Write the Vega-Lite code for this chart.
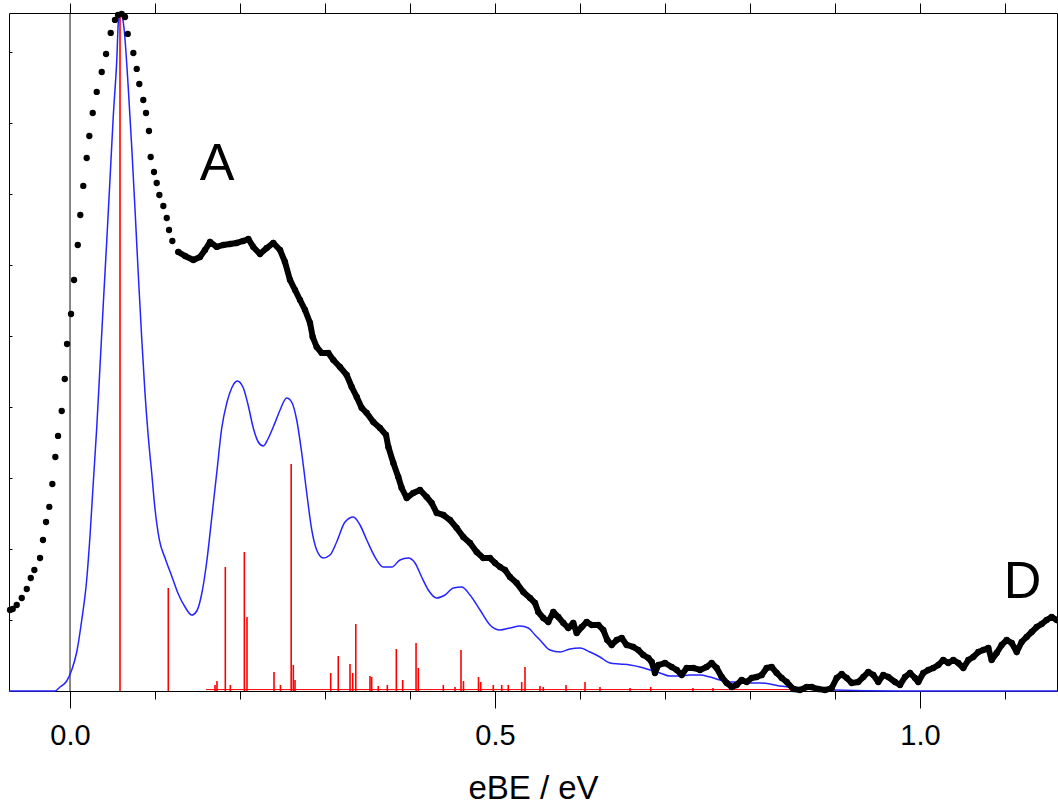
{
  "$schema": "https://vega.github.io/schema/vega-lite/v6.json",
  "width": 1048,
  "height": 678,
  "autosize": {"type": "none"},
  "padding": {"left": 9, "top": 13, "right": 1, "bottom": 115},
  "background": "white",
  "config": {
    "view": {"stroke": "black", "strokeWidth": 1},
    "font": "Liberation Sans",
    "axis": {"domainColor": "black", "tickColor": "black", "grid": false, "labelColor": "black", "titleColor": "black"}
  },
  "datasets": {
    "exp": [
      {"e": -0.0706, "v": 1.141}, {"e": -0.0674, "v": 1.155}, {"e": -0.0627, "v": 1.211}, {"e": -0.0568, "v": 1.31},
      {"e": -0.0509, "v": 1.437}, {"e": -0.0462, "v": 1.592}, {"e": -0.042, "v": 1.704}, {"e": -0.0353, "v": 1.873},
      {"e": -0.0318, "v": 2.127}, {"e": -0.0282, "v": 2.38}, {"e": -0.0244, "v": 2.592}, {"e": -0.0208, "v": 2.915},
      {"e": -0.0173, "v": 3.296}, {"e": -0.0141, "v": 3.592}, {"e": -0.0098, "v": 3.944}, {"e": -0.0062, "v": 4.394},
      {"e": -0.0035, "v": 4.887}, {"e": 0.0012, "v": 5.31}, {"e": 0.0047, "v": 5.789}, {"e": 0.0091, "v": 6.282},
      {"e": 0.0121, "v": 6.704}, {"e": 0.0156, "v": 7.113}, {"e": 0.0196, "v": 7.507}, {"e": 0.0227, "v": 7.817},
      {"e": 0.0267, "v": 8.141}, {"e": 0.0314, "v": 8.437}, {"e": 0.0373, "v": 8.718}, {"e": 0.0424, "v": 8.972},
      {"e": 0.0479, "v": 9.268}, {"e": 0.0529, "v": 9.451}, {"e": 0.0565, "v": 9.521}, {"e": 0.0608, "v": 9.535},
      {"e": 0.0647, "v": 9.493}, {"e": 0.0679, "v": 9.254}, {"e": 0.0745, "v": 8.986}, {"e": 0.0785, "v": 8.761},
      {"e": 0.0815, "v": 8.549}, {"e": 0.0862, "v": 8.324}, {"e": 0.0894, "v": 8.141}, {"e": 0.0929, "v": 7.887},
      {"e": 0.0949, "v": 7.521}, {"e": 0.0988, "v": 7.31}, {"e": 0.102, "v": 7.155}, {"e": 0.1051, "v": 6.986},
      {"e": 0.1098, "v": 6.831}, {"e": 0.1138, "v": 6.662}, {"e": 0.1165, "v": 6.493}, {"e": 0.1204, "v": 6.338},
      {"e": 0.1274, "v": 6.183}, {"e": 0.1353, "v": 6.127}, {"e": 0.1451, "v": 6.07}, {"e": 0.1529, "v": 6.113},
      {"e": 0.1588, "v": 6.211}, {"e": 0.1647, "v": 6.324}, {"e": 0.1726, "v": 6.254}, {"e": 0.1804, "v": 6.282},
      {"e": 0.1882, "v": 6.296}, {"e": 0.1961, "v": 6.31}, {"e": 0.2039, "v": 6.338}, {"e": 0.2098, "v": 6.366},
      {"e": 0.2156, "v": 6.254}, {"e": 0.2235, "v": 6.155}, {"e": 0.2314, "v": 6.239}, {"e": 0.2392, "v": 6.31},
      {"e": 0.2471, "v": 6.211}, {"e": 0.2529, "v": 6.042}, {"e": 0.2588, "v": 5.789}, {"e": 0.2647, "v": 5.648},
      {"e": 0.2706, "v": 5.507}, {"e": 0.2765, "v": 5.366}, {"e": 0.2824, "v": 5.183}, {"e": 0.2855, "v": 4.986},
      {"e": 0.2902, "v": 4.845}, {"e": 0.2961, "v": 4.761}, {"e": 0.3039, "v": 4.761}, {"e": 0.3098, "v": 4.662},
      {"e": 0.3176, "v": 4.563}, {"e": 0.3255, "v": 4.451}, {"e": 0.3314, "v": 4.282}, {"e": 0.3373, "v": 4.141},
      {"e": 0.3432, "v": 3.986}, {"e": 0.3491, "v": 3.915}, {"e": 0.3568, "v": 3.789}, {"e": 0.3647, "v": 3.704},
      {"e": 0.3718, "v": 3.606}, {"e": 0.3745, "v": 3.437}, {"e": 0.3804, "v": 3.211}, {"e": 0.3862, "v": 3.014},
      {"e": 0.3902, "v": 2.859}, {"e": 0.3961, "v": 2.718}, {"e": 0.4039, "v": 2.789}, {"e": 0.4118, "v": 2.831},
      {"e": 0.4196, "v": 2.732}, {"e": 0.4255, "v": 2.648}, {"e": 0.4314, "v": 2.507}, {"e": 0.4392, "v": 2.479},
      {"e": 0.4471, "v": 2.408}, {"e": 0.4549, "v": 2.296}, {"e": 0.4627, "v": 2.169}, {"e": 0.4706, "v": 2.085},
      {"e": 0.4784, "v": 1.958}, {"e": 0.4862, "v": 1.873}, {"e": 0.4941, "v": 1.873}, {"e": 0.5, "v": 1.803},
      {"e": 0.5059, "v": 1.746}, {"e": 0.5118, "v": 1.704}, {"e": 0.5176, "v": 1.606}, {"e": 0.5255, "v": 1.521},
      {"e": 0.5333, "v": 1.394}, {"e": 0.5412, "v": 1.31}, {"e": 0.5471, "v": 1.239}, {"e": 0.5509, "v": 1.113},
      {"e": 0.5568, "v": 1.028}, {"e": 0.5627, "v": 0.972}, {"e": 0.5686, "v": 1.113}, {"e": 0.5745, "v": 1.042},
      {"e": 0.5804, "v": 0.958}, {"e": 0.5862, "v": 0.887}, {"e": 0.5921, "v": 0.958}, {"e": 0.5961, "v": 0.817},
      {"e": 0.602, "v": 0.901}, {"e": 0.6079, "v": 0.972}, {"e": 0.6137, "v": 0.93}, {"e": 0.6215, "v": 0.93},
      {"e": 0.6274, "v": 0.859}, {"e": 0.6321, "v": 0.718}, {"e": 0.6373, "v": 0.648}, {"e": 0.6432, "v": 0.718},
      {"e": 0.6491, "v": 0.746}, {"e": 0.6549, "v": 0.648}, {"e": 0.6627, "v": 0.62}, {"e": 0.6686, "v": 0.577},
      {"e": 0.6745, "v": 0.507}, {"e": 0.6804, "v": 0.465}, {"e": 0.6844, "v": 0.408}, {"e": 0.6882, "v": 0.254},
      {"e": 0.6921, "v": 0.366}, {"e": 0.7, "v": 0.394}, {"e": 0.7079, "v": 0.338}, {"e": 0.7138, "v": 0.296},
      {"e": 0.7196, "v": 0.225}, {"e": 0.7255, "v": 0.324}, {"e": 0.7333, "v": 0.324}, {"e": 0.7412, "v": 0.296},
      {"e": 0.749, "v": 0.338}, {"e": 0.7549, "v": 0.394}, {"e": 0.7608, "v": 0.324}, {"e": 0.7667, "v": 0.197},
      {"e": 0.7726, "v": 0.113}, {"e": 0.7785, "v": 0.056}, {"e": 0.7843, "v": 0.085}, {"e": 0.7902, "v": 0.155},
      {"e": 0.7961, "v": 0.127}, {"e": 0.802, "v": 0.183}, {"e": 0.8079, "v": 0.197}, {"e": 0.8138, "v": 0.225},
      {"e": 0.8196, "v": 0.324}, {"e": 0.8255, "v": 0.338}, {"e": 0.8314, "v": 0.254}, {"e": 0.8373, "v": 0.183},
      {"e": 0.8432, "v": 0.127}, {"e": 0.851, "v": 0.028}, {"e": 0.8588, "v": 0.014}, {"e": 0.8667, "v": 0.056},
      {"e": 0.8726, "v": 0.056}, {"e": 0.8804, "v": 0.028}, {"e": 0.8882, "v": 0.014}, {"e": 0.8961, "v": 0.042},
      {"e": 0.902, "v": 0.183}, {"e": 0.9079, "v": 0.239}, {"e": 0.9138, "v": 0.183}, {"e": 0.9196, "v": 0.113},
      {"e": 0.9274, "v": 0.127}, {"e": 0.9333, "v": 0.197}, {"e": 0.9392, "v": 0.268}, {"e": 0.9451, "v": 0.225},
      {"e": 0.9509, "v": 0.127}, {"e": 0.9568, "v": 0.225}, {"e": 0.9627, "v": 0.197}, {"e": 0.9706, "v": 0.127},
      {"e": 0.9765, "v": 0.085}, {"e": 0.9824, "v": 0.197}, {"e": 0.9882, "v": 0.254}, {"e": 0.9941, "v": 0.183},
      {"e": 0.998, "v": 0.127}, {"e": 1.0039, "v": 0.254}, {"e": 1.0098, "v": 0.296}, {"e": 1.0157, "v": 0.324},
      {"e": 1.0216, "v": 0.366}, {"e": 1.0274, "v": 0.437}, {"e": 1.0333, "v": 0.394}, {"e": 1.0392, "v": 0.437},
      {"e": 1.0451, "v": 0.394}, {"e": 1.051, "v": 0.324}, {"e": 1.0569, "v": 0.437}, {"e": 1.0627, "v": 0.479},
      {"e": 1.0686, "v": 0.549}, {"e": 1.0745, "v": 0.577}, {"e": 1.0804, "v": 0.606}, {"e": 1.0843, "v": 0.437},
      {"e": 1.0902, "v": 0.535}, {"e": 1.0961, "v": 0.648}, {"e": 1.102, "v": 0.718}, {"e": 1.1079, "v": 0.676},
      {"e": 1.1138, "v": 0.549}, {"e": 1.1196, "v": 0.69}, {"e": 1.1255, "v": 0.761}, {"e": 1.1314, "v": 0.831},
      {"e": 1.1373, "v": 0.901}, {"e": 1.1432, "v": 0.944}, {"e": 1.149, "v": 1.0}, {"e": 1.1549, "v": 1.042},
      {"e": 1.1608, "v": 1.0}
    ],
    "sim": [
      {"e": -0.0718, "v": 0}, {"e": -0.0176, "v": 0}, {"e": -0.0118, "v": 0.056}, {"e": -0.0039, "v": 0.141},
      {"e": 0.002, "v": 0.296}, {"e": 0.0079, "v": 0.549}, {"e": 0.0138, "v": 1.0}, {"e": 0.0196, "v": 1.563},
      {"e": 0.0235, "v": 2.183}, {"e": 0.0274, "v": 2.944}, {"e": 0.0314, "v": 3.704}, {"e": 0.0353, "v": 4.577},
      {"e": 0.0392, "v": 5.465}, {"e": 0.0432, "v": 6.338}, {"e": 0.0471, "v": 7.225}, {"e": 0.0509, "v": 8.099},
      {"e": 0.0549, "v": 8.859}, {"e": 0.0571, "v": 9.451}, {"e": 0.0597, "v": 9.521}, {"e": 0.0618, "v": 9.479},
      {"e": 0.0635, "v": 9.338}, {"e": 0.0686, "v": 8.479}, {"e": 0.0726, "v": 7.662}, {"e": 0.0765, "v": 6.775},
      {"e": 0.0804, "v": 5.845}, {"e": 0.0844, "v": 4.958}, {"e": 0.0882, "v": 4.197}, {"e": 0.0921, "v": 3.577},
      {"e": 0.0961, "v": 3.07}, {"e": 0.1, "v": 2.563}, {"e": 0.1051, "v": 2.127}, {"e": 0.1118, "v": 1.873},
      {"e": 0.1196, "v": 1.62}, {"e": 0.1274, "v": 1.366}, {"e": 0.1353, "v": 1.183}, {"e": 0.1432, "v": 1.07},
      {"e": 0.1491, "v": 1.127}, {"e": 0.1549, "v": 1.366}, {"e": 0.1608, "v": 1.817}, {"e": 0.1667, "v": 2.437},
      {"e": 0.1726, "v": 3.07}, {"e": 0.1785, "v": 3.704}, {"e": 0.1844, "v": 4.056}, {"e": 0.1902, "v": 4.268},
      {"e": 0.1968, "v": 4.366}, {"e": 0.2039, "v": 4.268}, {"e": 0.2098, "v": 4.014}, {"e": 0.2156, "v": 3.704},
      {"e": 0.2215, "v": 3.507}, {"e": 0.2274, "v": 3.451}, {"e": 0.2333, "v": 3.56},
      {"e": 0.2412, "v": 3.78}, {"e": 0.2471, "v": 3.958}, {"e": 0.2549, "v": 4.127}, {"e": 0.2608, "v": 4.07}, {"e": 0.2667, "v": 3.817},
      {"e": 0.2726, "v": 3.352}, {"e": 0.2785, "v": 2.789}, {"e": 0.2844, "v": 2.268}, {"e": 0.2902, "v": 1.986},
      {"e": 0.298, "v": 1.873}, {"e": 0.3059, "v": 1.915}, {"e": 0.3137, "v": 2.099}, {"e": 0.3235, "v": 2.38},
      {"e": 0.3333, "v": 2.451}, {"e": 0.3412, "v": 2.338}, {"e": 0.3491, "v": 2.127}, {"e": 0.3588, "v": 1.887},
      {"e": 0.3686, "v": 1.746}, {"e": 0.3785, "v": 1.746}, {"e": 0.3882, "v": 1.845}, {"e": 0.398, "v": 1.873},
      {"e": 0.4059, "v": 1.803}, {"e": 0.4137, "v": 1.606}, {"e": 0.4215, "v": 1.423}, {"e": 0.4314, "v": 1.31},
      {"e": 0.4412, "v": 1.352}, {"e": 0.4509, "v": 1.451}, {"e": 0.4608, "v": 1.465}, {"e": 0.4706, "v": 1.352},
      {"e": 0.4824, "v": 1.141}, {"e": 0.4941, "v": 0.93}, {"e": 0.5059, "v": 0.859}, {"e": 0.5176, "v": 0.887},
      {"e": 0.5294, "v": 0.915}, {"e": 0.5392, "v": 0.887}, {"e": 0.5471, "v": 0.789}, {"e": 0.5529, "v": 0.718},
      {"e": 0.5647, "v": 0.577}, {"e": 0.5765, "v": 0.549}, {"e": 0.5882, "v": 0.592}, {"e": 0.6, "v": 0.606},
      {"e": 0.6118, "v": 0.549}, {"e": 0.6235, "v": 0.479}, {"e": 0.6353, "v": 0.394}, {"e": 0.6471, "v": 0.38},
      {"e": 0.6588, "v": 0.366}, {"e": 0.6706, "v": 0.338}, {"e": 0.6824, "v": 0.296}, {"e": 0.6941, "v": 0.254},
      {"e": 0.7059, "v": 0.211}, {"e": 0.7176, "v": 0.211}, {"e": 0.7294, "v": 0.225}, {"e": 0.7412, "v": 0.225},
      {"e": 0.7529, "v": 0.197}, {"e": 0.7647, "v": 0.155}, {"e": 0.7765, "v": 0.127}, {"e": 0.7882, "v": 0.127},
      {"e": 0.8, "v": 0.113}, {"e": 0.8118, "v": 0.113}, {"e": 0.8235, "v": 0.099}, {"e": 0.8353, "v": 0.07},
      {"e": 0.8471, "v": 0.056}, {"e": 0.8588, "v": 0.042}, {"e": 0.8976, "v": 0.014}, {"e": 0.9765, "v": 0},
      {"e": 1.1612, "v": 0}
    ],
    "stick": [
      {"e": 0.0588, "v": 9.549}, {"e": 0.1156, "v": 1.451}, {"e": 0.1706, "v": 0.085}, {"e": 0.1729, "v": 0.141},
      {"e": 0.1827, "v": 1.746}, {"e": 0.1886, "v": 0.085}, {"e": 0.2051, "v": 1.958}, {"e": 0.2082, "v": 1.042},
      {"e": 0.24, "v": 0.268}, {"e": 0.2476, "v": 0.085}, {"e": 0.2602, "v": 3.197}, {"e": 0.2627, "v": 0.366},
      {"e": 0.2647, "v": 0.155}, {"e": 0.3067, "v": 0.254}, {"e": 0.3156, "v": 0.493}, {"e": 0.3294, "v": 0.38},
      {"e": 0.3326, "v": 0.254}, {"e": 0.3362, "v": 0.944}, {"e": 0.3529, "v": 0.211}, {"e": 0.3549, "v": 0.197},
      {"e": 0.3627, "v": 0.07}, {"e": 0.3733, "v": 0.085}, {"e": 0.3839, "v": 0.592}, {"e": 0.3914, "v": 0.155},
      {"e": 0.4071, "v": 0.676}, {"e": 0.4098, "v": 0.324}, {"e": 0.4392, "v": 0.085}, {"e": 0.4529, "v": 0.056},
      {"e": 0.46, "v": 0.577}, {"e": 0.4629, "v": 0.141}, {"e": 0.4806, "v": 0.197}, {"e": 0.4832, "v": 0.127},
      {"e": 0.498, "v": 0.085}, {"e": 0.5079, "v": 0.085}, {"e": 0.5156, "v": 0.085}, {"e": 0.5314, "v": 0.127},
      {"e": 0.5353, "v": 0.338}, {"e": 0.5529, "v": 0.07}, {"e": 0.5568, "v": 0.056}, {"e": 0.5835, "v": 0.085},
      {"e": 0.6059, "v": 0.127}, {"e": 0.6235, "v": 0.056}, {"e": 0.6588, "v": 0.042}, {"e": 0.6832, "v": 0.056},
      {"e": 0.7329, "v": 0.042}, {"e": 0.7565, "v": 0.042}
    ],
    "base": [{"e": 0.16, "e2": 0.9, "v": 0.02}],
    "zero": [{"e": 0}],
    "lab": [{"e": 0.1729, "v": 7.197, "t": "A"}, {"e": 1.1206, "v": 1.31, "t": "D"}]
  },
  "resolve": {"axis": {"x": "independent", "y": "independent"}},
  "layer": [
    {
      "data": {"name": "zero"},
      "mark": {"type": "rule", "color": "#111111", "strokeWidth": 1},
      "encoding": {
        "x": {"field": "e", "type": "quantitative", "scale": {"domain": [-0.0718, 1.1612], "nice": false, "zero": false},
          "axis": {"orient": "top", "values": [0, 0.1, 0.2, 0.3, 0.4, 0.5, 0.6, 0.7, 0.8, 0.9, 1.0, 1.1], "tickSize": 10, "labels": false, "domain": false, "title": null}}
      }
    },
    {
      "data": {"name": "base"},
      "mark": {"type": "rule", "color": "#ff0000", "strokeWidth": 1},
      "encoding": {
        "x": {"field": "e", "type": "quantitative", "axis": null},
        "x2": {"field": "e2"},
        "y": {"field": "v", "type": "quantitative", "axis": null}
      }
    },
    {
      "data": {"name": "stick"},
      "mark": {"type": "rule", "color": "#ff0000", "strokeWidth": 1.6},
      "encoding": {
        "x": {"field": "e", "type": "quantitative",
          "axis": {"orient": "bottom", "values": [0.1, 0.2, 0.3, 0.4, 0.6, 0.7, 0.8, 0.9, 1.1], "tickSize": 8, "labels": false, "domain": false, "title": null}},
        "y": {"field": "v", "type": "quantitative", "scale": {"domain": [0, 9.549], "nice": false},
          "axis": {"orient": "left", "values": [1, 2, 3, 4, 5, 6, 7, 8, 9], "tickSize": -3, "labels": false, "domain": false, "title": null}},
        "y2": {"datum": 0}
      }
    },
    {
      "data": {"name": "sim"},
      "mark": {"type": "line", "color": "#2424ff", "strokeWidth": 1.5, "interpolate": "monotone"},
      "encoding": {
        "x": {"field": "e", "type": "quantitative", "axis": null},
        "y": {"field": "v", "type": "quantitative", "axis": null}
      }
    },
    {
      "data": {"name": "exp"},
      "transform": [{"filter": "datum.e > 0.125"}],
      "mark": {"type": "line", "color": "black", "strokeWidth": 6, "strokeJoin": "round", "strokeCap": "round"},
      "encoding": {
        "x": {"field": "e", "type": "quantitative", "axis": null},
        "y": {"field": "v", "type": "quantitative", "axis": null}
      }
    },
    {
      "data": {"name": "exp"},
      "mark": {"type": "point", "filled": true, "color": "black", "opacity": 1, "size": 40, "strokeWidth": 0},
      "encoding": {
        "x": {"field": "e", "type": "quantitative",
          "axis": {"orient": "bottom", "values": [0, 0.5, 1.0], "format": ".1f", "tickSize": 17, "labelFontSize": 29, "labelPadding": 13, "labelFont": "Liberation Sans", "domain": false,
            "title": "eBE / eV", "titleFontSize": 33, "titleFontWeight": "normal", "titleFont": "Liberation Sans", "titlePadding": 22}},
        "y": {"field": "v", "type": "quantitative", "axis": null}
      }
    },
    {
      "data": {"name": "lab"},
      "mark": {"type": "text", "fontSize": 52, "font": "Liberation Sans", "baseline": "alphabetic", "align": "center", "color": "black"},
      "encoding": {
        "x": {"field": "e", "type": "quantitative", "axis": null},
        "y": {"field": "v", "type": "quantitative", "axis": null},
        "text": {"field": "t"}
      }
    }
  ]
}
